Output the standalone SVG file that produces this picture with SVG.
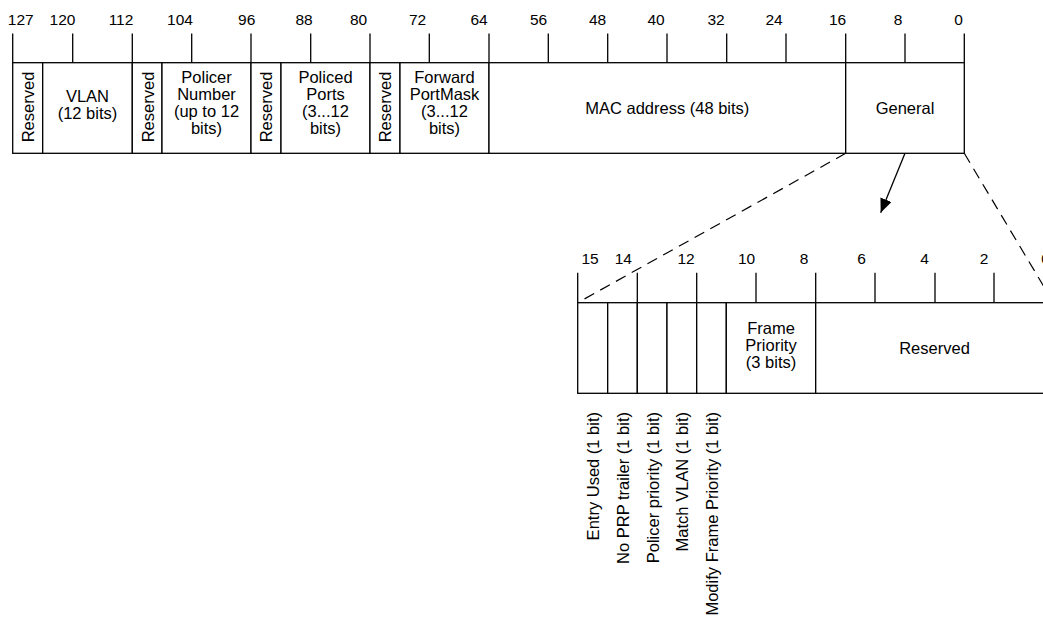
<svg xmlns="http://www.w3.org/2000/svg" width="1043" height="618" viewBox="0 0 1043 618">
<style>
  .ln { stroke: #000; stroke-width: 1.3; fill: none; }
  .box { stroke: #000; stroke-width: 1.3; fill: #fff; }
  .dash { stroke: #000; stroke-width: 1.2; fill: none; stroke-dasharray: 11 7; }
  .t { font-family: "Liberation Sans", Arial, sans-serif; font-size: 16.5px; fill: #000; text-anchor: middle; }
  .n { font-family: "Liberation Sans", Arial, sans-serif; font-size: 15.5px; fill: #000; text-anchor: middle; }
  .v { font-family: "Liberation Sans", Arial, sans-serif; font-size: 16.5px; fill: #000; text-anchor: end; }
</style>
<defs>
  <marker id="arr" viewBox="0 0 14 12" refX="14" refY="6" markerWidth="14" markerHeight="12" markerUnits="userSpaceOnUse" orient="auto">
    <path d="M0,0 L14,6 L0,12 z" fill="#000"/>
  </marker>
</defs>
<rect width="1043" height="618" fill="#fff"/>

<g id="top-ruler">
  <g class="ln">
    <line x1="12.7" y1="33.5" x2="12.7" y2="62.7"/>
    <line x1="72.7" y1="33.5" x2="72.7" y2="62.7"/>
    <line x1="132.3" y1="33.5" x2="132.3" y2="62.7"/>
    <line x1="191.7" y1="33.5" x2="191.7" y2="62.7"/>
    <line x1="251" y1="33.5" x2="251" y2="62.7"/>
    <line x1="310.7" y1="33.5" x2="310.7" y2="62.7"/>
    <line x1="370" y1="33.5" x2="370" y2="62.7"/>
    <line x1="429.3" y1="33.5" x2="429.3" y2="62.7"/>
    <line x1="489" y1="33.5" x2="489" y2="62.7"/>
    <line x1="548.3" y1="33.5" x2="548.3" y2="62.7"/>
    <line x1="607.7" y1="33.5" x2="607.7" y2="62.7"/>
    <line x1="667" y1="33.5" x2="667" y2="62.7"/>
    <line x1="726.7" y1="33.5" x2="726.7" y2="62.7"/>
    <line x1="786" y1="33.5" x2="786" y2="62.7"/>
    <line x1="845.7" y1="33.5" x2="845.7" y2="62.7"/>
    <line x1="905" y1="33.5" x2="905" y2="62.7"/>
    <line x1="964.3" y1="33.5" x2="964.3" y2="62.7"/>
  </g>
  <text class="n" x="20.8" y="24.5">127</text>
  <text class="n" x="62.5" y="24.5">120</text>
  <text class="n" x="121" y="24.5">112</text>
  <text class="n" x="180" y="24.5">104</text>
  <text class="n" x="246.7" y="24.5">96</text>
  <text class="n" x="304" y="24.5">88</text>
  <text class="n" x="358.5" y="24.5">80</text>
  <text class="n" x="417.5" y="24.5">72</text>
  <text class="n" x="479" y="24.5">64</text>
  <text class="n" x="538.5" y="24.5">56</text>
  <text class="n" x="597.5" y="24.5">48</text>
  <text class="n" x="656" y="24.5">40</text>
  <text class="n" x="716" y="24.5">32</text>
  <text class="n" x="774" y="24.5">24</text>
  <text class="n" x="837.5" y="24.5">16</text>
  <text class="n" x="898" y="24.5">8</text>
  <text class="n" x="958.5" y="24.5">0</text>
</g>

<g id="f-reserved1">
  <rect class="box" x="12.7" y="62.7" width="30" height="90.6"/>
  <text class="t" transform="translate(34,107) rotate(-90)">Reserved</text>
</g>
<g id="f-vlan">
  <rect class="box" x="42.7" y="62.7" width="89.6" height="90.6"/>
  <text class="t" x="87.5" y="101.5">VLAN</text>
  <text class="t" x="87.5" y="118.5">(12 bits)</text>
</g>
<g id="f-reserved2">
  <rect class="box" x="132.3" y="62.7" width="29.7" height="90.6"/>
  <text class="t" transform="translate(153.5,107) rotate(-90)">Reserved</text>
</g>
<g id="f-policer-number">
  <rect class="box" x="162" y="62.7" width="89" height="90.6"/>
  <text class="t" x="206.5" y="82.5">Policer</text>
  <text class="t" x="206.5" y="99.5">Number</text>
  <text class="t" x="206.5" y="116.5">(up to 12</text>
  <text class="t" x="206.5" y="133.5">bits)</text>
</g>
<g id="f-reserved3">
  <rect class="box" x="251" y="62.7" width="30" height="90.6"/>
  <text class="t" transform="translate(272.3,107) rotate(-90)">Reserved</text>
</g>
<g id="f-policed-ports">
  <rect class="box" x="281" y="62.7" width="89" height="90.6"/>
  <text class="t" x="325.5" y="82.5">Policed</text>
  <text class="t" x="325.5" y="99.5">Ports</text>
  <text class="t" x="325.5" y="116.5">(3...12</text>
  <text class="t" x="325.5" y="133.5">bits)</text>
</g>
<g id="f-reserved4">
  <rect class="box" x="370" y="62.7" width="30" height="90.6"/>
  <text class="t" transform="translate(391.3,107) rotate(-90)">Reserved</text>
</g>
<g id="f-forward-portmask">
  <rect class="box" x="400" y="62.7" width="89" height="90.6"/>
  <text class="t" x="444.5" y="82.5">Forward</text>
  <text class="t" x="444.5" y="99.5">PortMask</text>
  <text class="t" x="444.5" y="116.5">(3...12</text>
  <text class="t" x="444.5" y="133.5">bits)</text>
</g>
<g id="f-mac">
  <rect class="box" x="489" y="62.7" width="356.7" height="90.6"/>
  <text class="t" x="667.3" y="114">MAC address (48 bits)</text>
</g>
<g id="f-general">
  <rect class="box" x="845.7" y="62.7" width="118.6" height="90.6"/>
  <text class="t" x="905" y="114">General</text>
</g>

<g id="connectors">
  <line class="dash" x1="845.7" y1="153.3" x2="577.7" y2="302.7"/>
  <line class="dash" x1="964.3" y1="153.3" x2="1053.5" y2="302.7"/>
  <line class="ln" x1="905" y1="153.3" x2="880.7" y2="212.7" marker-end="url(#arr)"/>
</g>

<g id="bottom-ruler">
  <g class="ln">
    <line x1="577.7" y1="272.7" x2="577.7" y2="302.7"/>
    <line x1="637.3" y1="272.7" x2="637.3" y2="302.7"/>
    <line x1="696.7" y1="272.7" x2="696.7" y2="302.7"/>
    <line x1="756" y1="272.7" x2="756" y2="302.7"/>
    <line x1="815.7" y1="272.7" x2="815.7" y2="302.7"/>
    <line x1="875" y1="272.7" x2="875" y2="302.7"/>
    <line x1="935" y1="272.7" x2="935" y2="302.7"/>
    <line x1="994" y1="272.7" x2="994" y2="302.7"/>
    <line x1="1053.5" y1="272.7" x2="1053.5" y2="302.7"/>
  </g>
  <text class="n" x="590" y="264">15</text>
  <text class="n" x="623.3" y="264">14</text>
  <text class="n" x="686" y="264">12</text>
  <text class="n" x="746.5" y="264">10</text>
  <text class="n" x="804" y="264">8</text>
  <text class="n" x="861.5" y="264">6</text>
  <text class="n" x="924.5" y="264">4</text>
  <text class="n" x="984" y="264">2</text>
  <text class="n" x="1045.5" y="264">0</text>
</g>

<g id="b-entry-used">
  <rect class="box" x="577.7" y="302.7" width="30" height="90.6"/>
  <text class="v" transform="translate(599.2,412) rotate(-90)">Entry Used (1 bit)</text>
</g>
<g id="b-no-prp">
  <rect class="box" x="607.7" y="302.7" width="29.6" height="90.6"/>
  <text class="v" transform="translate(629,412) rotate(-90)">No PRP trailer (1 bit)</text>
</g>
<g id="b-policer-priority">
  <rect class="box" x="637.3" y="302.7" width="29.7" height="90.6"/>
  <text class="v" transform="translate(658.5,412) rotate(-90)">Policer priority (1 bit)</text>
</g>
<g id="b-match-vlan">
  <rect class="box" x="667" y="302.7" width="29.7" height="90.6"/>
  <text class="v" transform="translate(688.3,412) rotate(-90)">Match VLAN (1 bit)</text>
</g>
<g id="b-modify-frame-priority">
  <rect class="box" x="696.7" y="302.7" width="29.6" height="90.6"/>
  <text class="v" transform="translate(718,412) rotate(-90)">Modify Frame Priority (1 bit)</text>
</g>
<g id="b-frame-priority">
  <rect class="box" x="726.3" y="302.7" width="89.4" height="90.6"/>
  <text class="t" x="771" y="334.4">Frame</text>
  <text class="t" x="771" y="351.4">Priority</text>
  <text class="t" x="771" y="368.4">(3 bits)</text>
</g>
<g id="b-reserved">
  <rect class="box" x="815.7" y="302.7" width="237.8" height="90.6"/>
  <text class="t" x="934.5" y="354">Reserved</text>
</g>
</svg>
